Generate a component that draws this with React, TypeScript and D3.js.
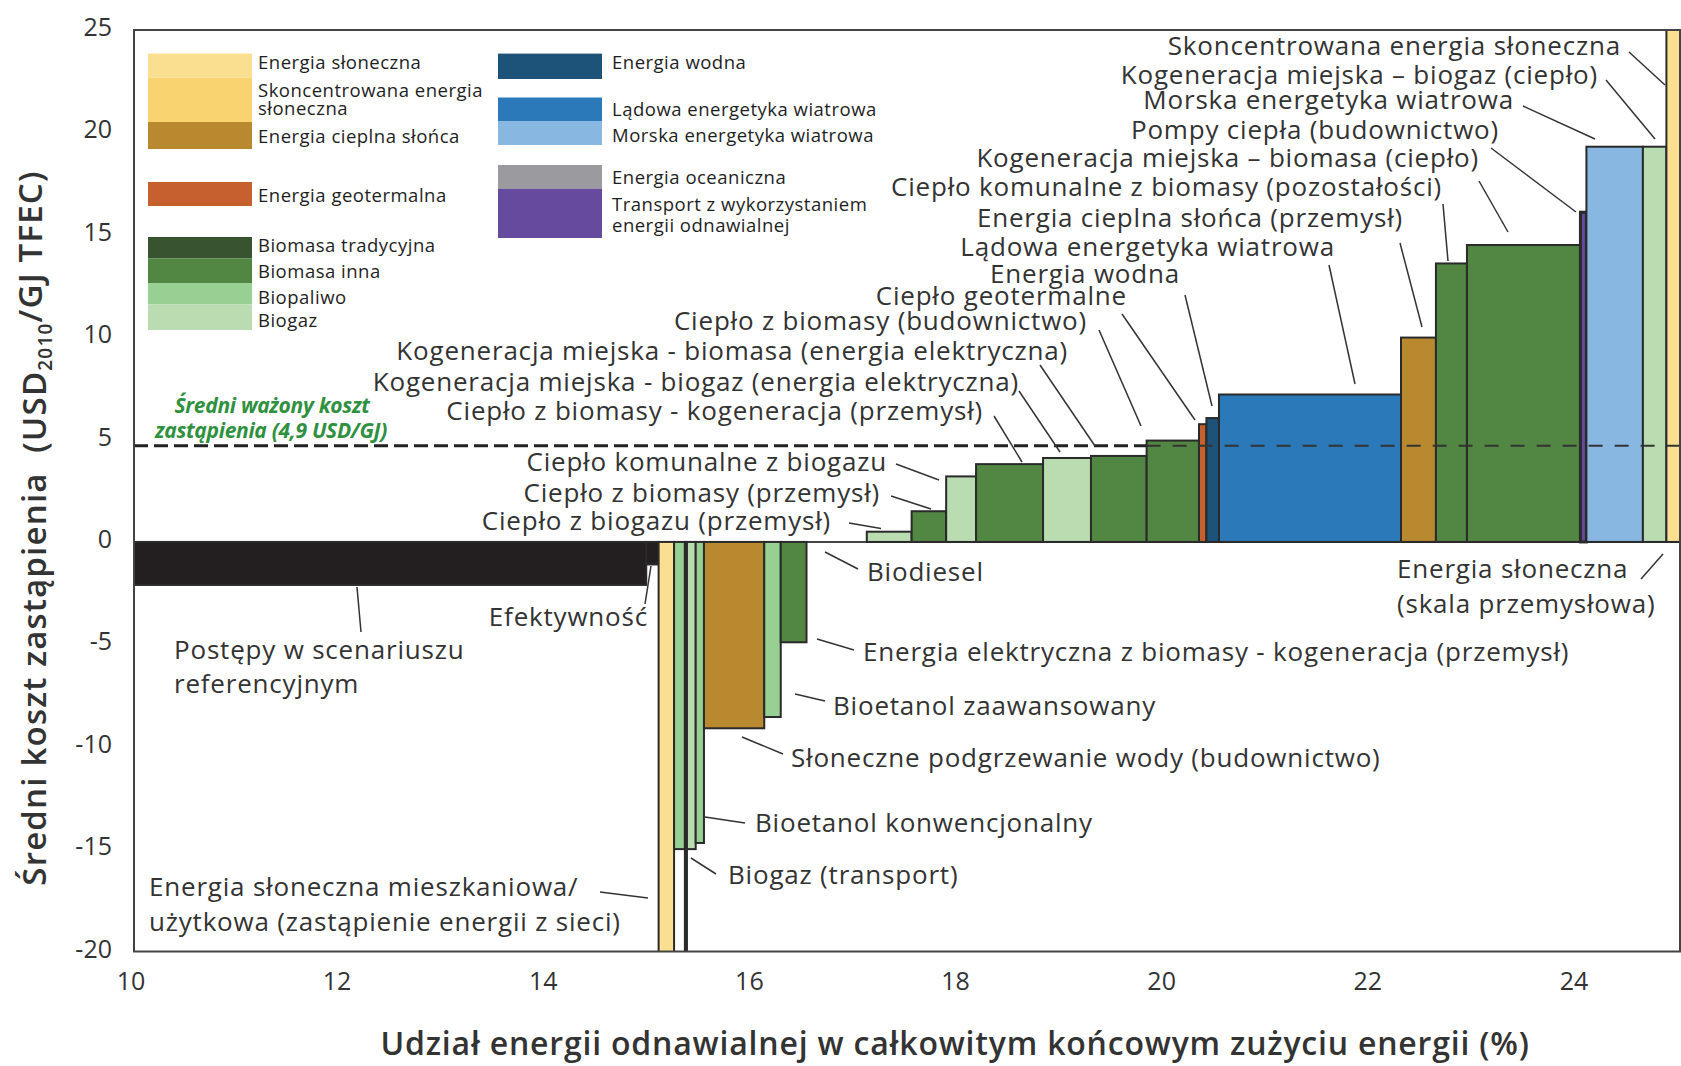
import React from 'react';
import * as d3 from 'd3';

const W = 1681;
const H = 1066;
const FONT = "'Open Sans', 'Noto Sans', sans-serif";

// ---------- data ----------
const techKeys = ['solarPV', 'csp', 'solarThermal', 'geothermal', 'tradBiomass', 'otherBiomass', 'biofuel', 'biogas', 'hydro', 'onshore', 'offshore', 'ocean', 'transport', 'reference', 'dark'];
const techColors = ['#f9df8f', '#f9d36f', '#b8892f', '#c6612f', '#37532f', '#528643', '#98d094', '#b9ddb1', '#1d5379', '#2b79b9', '#88b7e1', '#9b9a9f', '#654a9d', '#231f20', '#2a2a2a'];

const segLabel = [
  'Postępy w scenariuszu referencyjnym', 'Efektywność', 'Energia słoneczna mieszkaniowa/użytkowa', 'Biopaliwo',
  'Biopaliwo (2)', 'Biogaz (transport)', 'Bioetanol konwencjonalny', 'Słoneczne podgrzewanie wody (budownictwo)',
  'Bioetanol zaawansowany', 'Energia elektryczna z biomasy - kogeneracja (przemysł)', 'Ciepło z biogazu (przemysł)',
  'Ciepło z biomasy (przemysł)', 'Ciepło komunalne z biogazu', 'Ciepło z biomasy - kogeneracja (przemysł)',
  'Kogeneracja miejska - biogaz (energia elektryczna)', 'Kogeneracja miejska - biomasa (energia elektryczna)',
  'Ciepło z biomasy (budownictwo)', 'Ciepło geotermalne', 'Energia wodna', 'Lądowa energetyka wiatrowa',
  'Energia cieplna słońca (przemysł)', 'Ciepło komunalne z biomasy (pozostałości)', 'Kogeneracja miejska – biomasa (ciepło)',
  'Pompy ciepła (budownictwo)', 'Morska energetyka wiatrowa', 'Kogeneracja miejska – biogaz (ciepło)', 'Skoncentrowana energia słoneczna',
];
const segStart = [10.0, 14.97, 15.09, 15.24, 15.345, 15.365, 15.45, 15.53, 16.115, 16.275, 17.11, 17.545, 17.88, 18.17, 18.82, 19.285, 19.825, 20.333, 20.405, 20.527, 22.293, 22.632, 22.933, 24.034, 24.092, 24.64, 24.868];
const segEnd = [14.97, 15.09, 15.24, 15.345, 15.365, 15.45, 15.53, 16.115, 16.275, 16.525, 17.545, 17.88, 18.17, 18.82, 19.285, 19.825, 20.333, 20.405, 20.527, 22.293, 22.632, 22.933, 24.034, 24.092, 24.64, 24.868, 25.0];
const segCost = [-2.1, -1.1, -21, -15.0, -21, -15.0, -14.7, -9.1, -8.55, -4.9, 0.5, 1.5, 3.2, 3.8, 4.1, 4.2, 4.95, 5.75, 6.05, 7.2, 9.98, 13.6, 14.5, 16.1, 19.3, 19.3, 26];
const segTech = ['reference', 'reference', 'solarPV', 'biofuel', 'dark', 'biogas', 'biofuel', 'solarThermal', 'biofuel', 'otherBiomass', 'biogas', 'otherBiomass', 'biogas', 'otherBiomass', 'biogas', 'otherBiomass', 'otherBiomass', 'geothermal', 'hydro', 'onshore', 'solarThermal', 'otherBiomass', 'otherBiomass', 'transport', 'offshore', 'biogas', 'solarPV'];

const averageCost = 4.7;
const xTicks = [10, 12, 14, 16, 18, 20, 22, 24];
const yTicks = [25, 20, 15, 10, 5, 0, -5, -10, -15, -20];

const legend1Keys = ['solarPV', 'csp', 'solarThermal', 'geothermal', 'tradBiomass', 'otherBiomass', 'biofuel', 'biogas'];
const legend1Text = [['Energia słoneczna'], ['Skoncentrowana energia', 'słoneczna'], ['Energia cieplna słońca'], ['Energia geotermalna'], ['Biomasa tradycyjna'], ['Biomasa inna'], ['Biopaliwo'], ['Biogaz']];
const legend2Keys = ['hydro', 'onshore', 'offshore', 'ocean', 'transport'];
const legend2Text = [['Energia wodna'], ['Lądowa energetyka wiatrowa'], ['Morska energetyka wiatrowa'], ['Energia oceaniczna'], ['Transport z wykorzystaniem', 'energii odnawialnej']];

// ---------- layout ----------
const margin = { left: 134, right: 1680, top: 30, bottom: 951.5 };
const legend1Swatch = [[53.6, 77.5], [77.5, 122], [122, 149], [182, 206], [237, 258.5], [258.5, 283], [283, 304.5], [304.5, 330]];
const legend1TextY = [[62.5], [90.5, 108.5], [136], [195.5], [245.5], [271.5], [297], [320.5]];
const legend2Swatch = [[53.6, 79], [97.5, 121], [121, 145], [165, 188.7], [188.7, 238]];
const legend2TextY = [[62], [109.5], [135.5], [177], [204, 225]];

// annotations: text lines, anchor x, y(s), leader line
const annotations = [
  { lines: ['Skoncentrowana energia słoneczna'], x: 1621, y: [46], a: 'end', l: [1629, 52, 1665, 85] },
  { lines: ['Kogeneracja miejska – biogaz (ciepło)'], x: 1598, y: [74.5], a: 'end', l: [1606, 80, 1655, 139] },
  { lines: ['Morska energetyka wiatrowa'], x: 1514, y: [100], a: 'end', l: [1523, 106, 1595, 139] },
  { lines: ['Pompy ciepła (budownictwo)'], x: 1499, y: [129.7], a: 'end', l: [1491, 148, 1576, 212] },
  { lines: ['Kogeneracja miejska – biomasa (ciepło)'], x: 1479, y: [158], a: 'end', l: [1479, 181, 1508, 232] },
  { lines: ['Ciepło komunalne z biomasy (pozostałości)'], x: 1442, y: [187], a: 'end', l: [1443, 204, 1448, 261] },
  { lines: ['Energia cieplna słońca (przemysł)'], x: 1403, y: [217.6], a: 'end', l: [1400, 243, 1422, 327] },
  { lines: ['Lądowa energetyka wiatrowa'], x: 1335, y: [247], a: 'end', l: [1329, 265, 1355, 384] },
  { lines: ['Energia wodna'], x: 1180, y: [273.5], a: 'end', l: [1185, 295, 1212, 406] },
  { lines: ['Ciepło geotermalne'], x: 1127, y: [296], a: 'end', l: [1122, 314, 1195, 420] },
  { lines: ['Ciepło z biomasy (budownictwo)'], x: 1087, y: [321], a: 'end', l: [1099, 330, 1141, 426] },
  { lines: ['Kogeneracja miejska - biomasa (energia elektryczna)'], x: 1068, y: [351], a: 'end', l: [1040, 365, 1095, 446] },
  { lines: ['Kogeneracja miejska - biogaz (energia elektryczna)'], x: 1019, y: [382], a: 'end', l: [1019, 391, 1060, 452] },
  { lines: ['Ciepło z biomasy - kogeneracja (przemysł)'], x: 983, y: [411], a: 'end', l: [994, 416, 1022, 462] },
  { lines: ['Ciepło komunalne z biogazu'], x: 887, y: [461.5], a: 'end', l: [896, 464, 939, 480] },
  { lines: ['Ciepło z biomasy (przemysł)'], x: 880, y: [492.5], a: 'end', l: [891, 496, 931, 509] },
  { lines: ['Ciepło z biogazu (przemysł)'], x: 831, y: [521], a: 'end', l: [849, 523, 881, 528.6] },
  { lines: ['Postępy w scenariuszu', 'referencyjnym'], x: 174, y: [650, 684], a: 'start', l: [357, 587, 361, 632] },
  { lines: ['Efektywność'], x: 648, y: [617], a: 'end', l: [651, 566, 645, 604] },
  { lines: ['Energia słoneczna mieszkaniowa/', 'użytkowa (zastąpienie energii z sieci)'], x: 149, y: [887, 922], a: 'start', l: [600, 892, 648, 898] },
  { lines: ['Biodiesel'], x: 867, y: [571.5], a: 'start', l: [825, 552, 858, 569] },
  { lines: ['Energia elektryczna z biomasy - kogeneracja (przemysł)'], x: 863, y: [652], a: 'start', l: [817, 639, 854, 650] },
  { lines: ['Bioetanol zaawansowany'], x: 833, y: [705.5], a: 'start', l: [795, 694, 825, 701] },
  { lines: ['Słoneczne podgrzewanie wody (budownictwo)'], x: 791, y: [758], a: 'start', l: [742, 737, 783, 754] },
  { lines: ['Bioetanol konwencjonalny'], x: 755, y: [823], a: 'start', l: [705, 817, 745, 823] },
  { lines: ['Biogaz (transport)'], x: 728, y: [875], a: 'start', l: [691, 858, 716, 874] },
  { lines: ['Energia słoneczna', '(skala przemysłowa)'], x: 1397, y: [569, 604], a: 'start', l: [1641, 579, 1663, 554] },
];

export default function App() {
  const x = d3.scaleLinear().domain([10, 25]).range([margin.left, margin.right]);
  const y = d3.scaleLinear().domain([-20, 25]).range([margin.bottom, margin.top]);
  const color = d3.scaleOrdinal<string, string>().domain(techKeys).range(techColors);

  const bars = segLabel.map((name, i) => ({ name, x0: segStart[i], x1: segEnd[i], v: segCost[i], tech: segTech[i] }));
  const splitX = x(19.825);

  return (
    <svg width={W} height={H} style={{ position: 'absolute', left: 0, top: 0, background: '#fff' }} fontFamily={FONT}>
      <defs>
        <clipPath id="plot">
          <rect x={margin.left} y={margin.top} width={margin.right - margin.left} height={margin.bottom - margin.top} />
        </clipPath>
      </defs>

      {/* legend */}
      {legend1Keys.map((k, i) => (
        <rect key={'l1' + k} x={148} y={legend1Swatch[i][0]} width={104} height={legend1Swatch[i][1] - legend1Swatch[i][0]} fill={color(k)} />
      ))}
      {legend1Text.map((lines, i) => lines.map((t, j) => (
        <text key={'l1t' + i + j} x={258} y={legend1TextY[i][j]} dy="0.36em" fontSize={18.5} fontWeight={500} letterSpacing={0.5} fill="#1e1e1e">{t}</text>
      )))}
      {legend2Keys.map((k, i) => (
        <rect key={'l2' + k} x={498} y={legend2Swatch[i][0]} width={104} height={legend2Swatch[i][1] - legend2Swatch[i][0]} fill={color(k)} />
      ))}
      {legend2Text.map((lines, i) => lines.map((t, j) => (
        <text key={'l2t' + i + j} x={612} y={legend2TextY[i][j]} dy="0.36em" fontSize={18.5} fontWeight={500} letterSpacing={0.5} fill="#1e1e1e">{t}</text>
      )))}

      {/* thick average line (behind bars) */}
      <line x1={x(10)} x2={splitX} y1={y(averageCost)} y2={y(averageCost)} stroke="#222" strokeWidth={3} strokeDasharray="14 6" />

      {/* zero line */}
      <line x1={x(10)} x2={x(25)} y1={y(0)} y2={y(0)} stroke="#444" strokeWidth={2} />

      {/* bars */}
      <g clipPath="url(#plot)">
        {bars.map((b, i) => {
          const yTop = y(Math.max(0, b.v));
          const yBot = y(Math.min(0, b.v));
          return (
            <rect key={'b' + i} x={x(b.x0)} y={yTop} width={x(b.x1) - x(b.x0)} height={yBot - yTop}
              fill={color(b.tech)} stroke="#2a2a2a" strokeWidth={b.tech === 'transport' ? 3 : 2} />
          );
        })}
        {/* thin average line over bars */}
        <line x1={splitX} x2={x(25)} y1={y(averageCost)} y2={y(averageCost)} stroke="#333" strokeWidth={2} strokeDasharray="14 12" />
      </g>

      {/* frame */}
      <rect x={margin.left} y={margin.top} width={margin.right - margin.left} height={margin.bottom - margin.top} fill="none" stroke="#444" strokeWidth={2} />

      {/* average label */}
      <g fill="#2f9140" fontSize={21} fontStyle="italic" fontWeight={700} textAnchor="middle" letterSpacing={-0.3}>
        <text x={272} y={405} dy="0.36em">Średni ważony koszt</text>
        <text x={271} y={430} dy="0.36em">zastąpienia (4,9 USD/GJ)</text>
      </g>

      {/* annotations */}
      <g fontSize={26} fill="#333" letterSpacing={0.8}>
        {annotations.map((a, i) => (
          <g key={'a' + i}>
            <line x1={a.l[0]} y1={a.l[1]} x2={a.l[2]} y2={a.l[3]} stroke="#333" strokeWidth={1.5} />
            {a.lines.map((t, j) => (
              <text key={j} x={a.x} y={a.y[j]} dy="0.36em" textAnchor={a.a}>{t}</text>
            ))}
          </g>
        ))}
      </g>

      {/* y ticks */}
      <g fontSize={25} fill="#333" textAnchor="end">
        {yTicks.map(t => (
          <text key={'y' + t} x={112} y={y(t) - 3} dy="0.36em">{t}</text>
        ))}
      </g>
      {/* x ticks */}
      <g fontSize={25} fill="#333" textAnchor="middle">
        {xTicks.map(t => (
          <text key={'x' + t} x={x(t) - 3} y={981} dy="0.36em">{t}</text>
        ))}
      </g>

      {/* axis titles */}
      <text x={955} y={1043} dy="0.36em" textAnchor="middle" fontSize={32} fontWeight={600} letterSpacing={0.8} fill="#333">
        Udział energii odnawialnej w całkowitym końcowym zużyciu energii (%)
      </text>
      <text transform="translate(34,528) rotate(-90)" textAnchor="middle" dy="0.36em" fontSize={33} fontWeight={600} letterSpacing={1.2} fill="#333">
        <tspan>{'Średni koszt zastąpienia\u00A0 (USD'}</tspan>
        <tspan fontSize={19} dy="0.3em">2010</tspan>
        <tspan dy="-0.3em">/GJ TFEC)</tspan>
      </text>
    </svg>
  );
}
